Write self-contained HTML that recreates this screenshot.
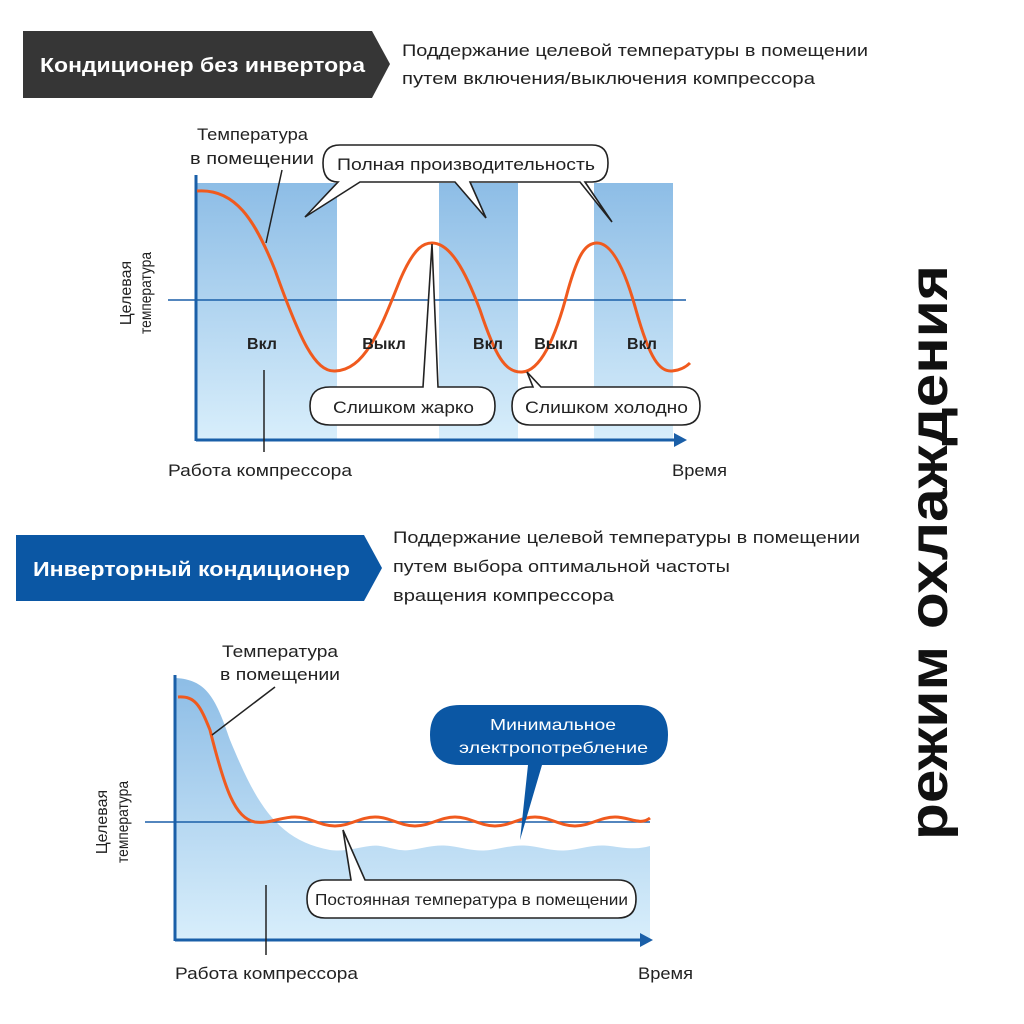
<!DOCTYPE html>
<html><head><meta charset="utf-8"><style>
html,body{margin:0;padding:0;background:#fff;}
svg{display:block;font-family:"Liberation Sans","DejaVu Sans",sans-serif;}
</style></head><body>
<svg width="1024" height="1024" viewBox="0 0 1024 1024" xmlns="http://www.w3.org/2000/svg">
<defs>
<linearGradient id="g1" x1="0" y1="0" x2="0" y2="1"><stop offset="0" stop-color="#8dbde6"/><stop offset="1" stop-color="#d8eefb"/></linearGradient>
<linearGradient id="g2" x1="0" y1="0" x2="0" y2="1"><stop offset="0" stop-color="#8dbde6"/><stop offset="1" stop-color="#d8eefb"/></linearGradient>
</defs>
<rect width="1024" height="1024" fill="#fff"/>

<!-- Header 1 -->
<polygon points="23,31 372,31 390,64 372,98 23,98" fill="#363636"/>
<text x="40" y="72" font-size="20" font-weight="bold" fill="#fff" textLength="325" lengthAdjust="spacingAndGlyphs">Кондиционер без инвертора</text>
<text x="402" y="56" font-size="17" fill="#222" textLength="466" lengthAdjust="spacingAndGlyphs">Поддержание целевой температуры в помещении</text>
<text x="402" y="84" font-size="17" fill="#222" textLength="413" lengthAdjust="spacingAndGlyphs">путем включения/выключения компрессора</text>

<!-- Chart 1 bands -->
<rect x="197" y="183" width="140" height="257" fill="url(#g1)"/>
<rect x="439" y="183" width="79" height="257" fill="url(#g1)"/>
<rect x="594" y="183" width="79" height="257" fill="url(#g1)"/>
<line x1="168" y1="300" x2="686" y2="300" stroke="#1a5fa8" stroke-width="1.5"/>
<line x1="196" y1="175" x2="196" y2="441" stroke="#1a5fa8" stroke-width="3"/>
<line x1="196" y1="440" x2="676" y2="440" stroke="#1a5fa8" stroke-width="3"/>
<polygon points="674,433 687,440 674,447" fill="#1a5fa8"/>

<path d="M197,191 C235,188 255,220 275,270 C300,340 315,372 335,371 C365,370 380,330 400,280 C415,245 425,243 432,243 C450,243 465,270 480,310 C495,355 505,373 522,372 C540,371 555,340 568,290 C578,255 585,243 597,243 C612,243 625,270 636,310 C650,360 660,372 672,371 C682,370 688,365 690,363" fill="none" stroke="#f05a1e" stroke-width="3"/>

<g font-size="16" font-weight="bold" fill="#222" text-anchor="middle">
<text x="262" y="349">Вкл</text><text x="384" y="349">Выкл</text><text x="488" y="349">Вкл</text><text x="556" y="349">Выкл</text><text x="642" y="349">Вкл</text>
</g>

<!-- callout full -->
<path d="M340,145 H592 Q608,145 608,163 Q608,182 592,182 H585 L612,222 L580,182 H470 L486,218 L455,182 H360 L305,217 L338,182 Q323,182 323,163 Q323,145 340,145 Z" fill="#fff" stroke="#222" stroke-width="1.6"/>
<text x="337" y="170" font-size="17" fill="#222" textLength="258" lengthAdjust="spacingAndGlyphs">Полная производительность</text>

<text x="197" y="140" font-size="16.5" fill="#222" textLength="111" lengthAdjust="spacingAndGlyphs">Температура</text>
<text x="190" y="164" font-size="16.5" fill="#222" textLength="124" lengthAdjust="spacingAndGlyphs">в помещении</text>
<line x1="282" y1="170" x2="266" y2="243" stroke="#222" stroke-width="1.5"/>

<path d="M330,387 H423 L432,244 L438,387 H478 Q495,387 495,406 Q495,425 478,425 H330 Q310,425 310,406 Q310,387 330,387 Z" fill="#fff" stroke="#222" stroke-width="1.6"/>
<text x="333" y="413" font-size="16.5" fill="#222" textLength="141" lengthAdjust="spacingAndGlyphs">Слишком жарко</text>
<path d="M530,387 H533 L527,372 L541,387 H682 Q700,387 700,406 Q700,425 682,425 H530 Q512,425 512,406 Q512,387 530,387 Z" fill="#fff" stroke="#222" stroke-width="1.6"/>
<text x="525" y="413" font-size="16.5" fill="#222" textLength="163" lengthAdjust="spacingAndGlyphs">Слишком холодно</text>

<line x1="264" y1="370" x2="264" y2="452" stroke="#222" stroke-width="1.5"/>
<text x="168" y="476" font-size="16.5" fill="#222" textLength="184" lengthAdjust="spacingAndGlyphs">Работа компрессора</text>
<text x="672" y="476" font-size="16.5" fill="#222" textLength="55" lengthAdjust="spacingAndGlyphs">Время</text>
<text transform="translate(131,293) rotate(-90)" font-size="16" fill="#222" text-anchor="middle">Целевая</text>
<text transform="translate(151,293) rotate(-90)" font-size="16" fill="#222" text-anchor="middle" textLength="82" lengthAdjust="spacingAndGlyphs">температура</text>

<!-- Right vertical -->
<text transform="translate(947,840) rotate(-90)" font-size="54" font-weight="bold" fill="#111" textLength="575" lengthAdjust="spacingAndGlyphs">режим охлаждения</text>

<!-- Header 2 -->
<polygon points="16,535 364,535 382,568 364,601 16,601" fill="#0b57a4"/>
<text x="33" y="576" font-size="20" font-weight="bold" fill="#fff" textLength="317" lengthAdjust="spacingAndGlyphs">Инверторный кондиционер</text>
<text x="393" y="543" font-size="17" fill="#222" textLength="467" lengthAdjust="spacingAndGlyphs">Поддержание целевой температуры в помещении</text>
<text x="393" y="572" font-size="17" fill="#222" textLength="337" lengthAdjust="spacingAndGlyphs">путем выбора оптимальной частоты</text>
<text x="393" y="601" font-size="17" fill="#222" textLength="221" lengthAdjust="spacingAndGlyphs">вращения компрессора</text>

<!-- Chart 2 -->
<path d="M176,678 C205,680 215,695 230,740 C255,800 275,840 330,850 C345,852 355,848 370,846 C385,844 395,852 410,850 C425,848 435,844 450,846 C465,848 475,852 490,850 C505,848 515,844 530,846 C545,848 555,852 570,850 C585,848 595,844 610,846 C625,848 635,850 650,846 V940 H176 Z" fill="url(#g2)"/>
<line x1="145" y1="822" x2="650" y2="822" stroke="#1a5fa8" stroke-width="1.5"/>
<line x1="175" y1="675" x2="175" y2="941" stroke="#1a5fa8" stroke-width="3"/>
<line x1="175" y1="940" x2="642" y2="940" stroke="#1a5fa8" stroke-width="3"/>
<polygon points="640,933 653,940 640,947" fill="#1a5fa8"/>
<path d="M178,697 C195,696 200,705 210,730 C225,790 235,818 255,822 C270,824 280,817 295,817 C310,817 320,826 335,826 C350,826 360,817 375,817 C390,817 400,826 415,826 C430,826 440,817 455,817 C470,817 480,826 495,826 C510,826 520,817 535,817 C550,817 560,826 575,826 C590,826 600,817 615,817 C630,817 640,826 650,818" fill="none" stroke="#f05a1e" stroke-width="3"/>

<text x="222" y="657" font-size="16.5" fill="#222" textLength="116" lengthAdjust="spacingAndGlyphs">Температура</text>
<text x="220" y="680" font-size="16.5" fill="#222" textLength="120" lengthAdjust="spacingAndGlyphs">в помещении</text>
<line x1="275" y1="687" x2="212" y2="735" stroke="#222" stroke-width="1.5"/>

<path d="M460,705 H638 Q668,705 668,735 Q668,765 638,765 H542 L520,840 L528,765 H460 Q430,765 430,735 Q430,705 460,705 Z" fill="#0b57a4"/>
<text x="490" y="730" font-size="16" fill="#fff" textLength="126" lengthAdjust="spacingAndGlyphs">Минимальное</text>
<text x="459" y="753" font-size="16" fill="#fff" textLength="189" lengthAdjust="spacingAndGlyphs">электропотребление</text>

<path d="M325,880 H351 L343,830 L365,880 H618 Q636,880 636,899 Q636,918 618,918 H325 Q307,918 307,899 Q307,880 325,880 Z" fill="#fff" stroke="#222" stroke-width="1.6"/>
<text x="315" y="905" font-size="16" fill="#222" textLength="313" lengthAdjust="spacingAndGlyphs">Постоянная температура в помещении</text>

<line x1="266" y1="885" x2="266" y2="955" stroke="#222" stroke-width="1.5"/>
<text x="175" y="979" font-size="16.5" fill="#222" textLength="183" lengthAdjust="spacingAndGlyphs">Работа компрессора</text>
<text x="638" y="979" font-size="16.5" fill="#222" textLength="55" lengthAdjust="spacingAndGlyphs">Время</text>
<text transform="translate(107,822) rotate(-90)" font-size="16" fill="#222" text-anchor="middle">Целевая</text>
<text transform="translate(128,822) rotate(-90)" font-size="16" fill="#222" text-anchor="middle" textLength="82" lengthAdjust="spacingAndGlyphs">температура</text>
</svg>
</body></html>
